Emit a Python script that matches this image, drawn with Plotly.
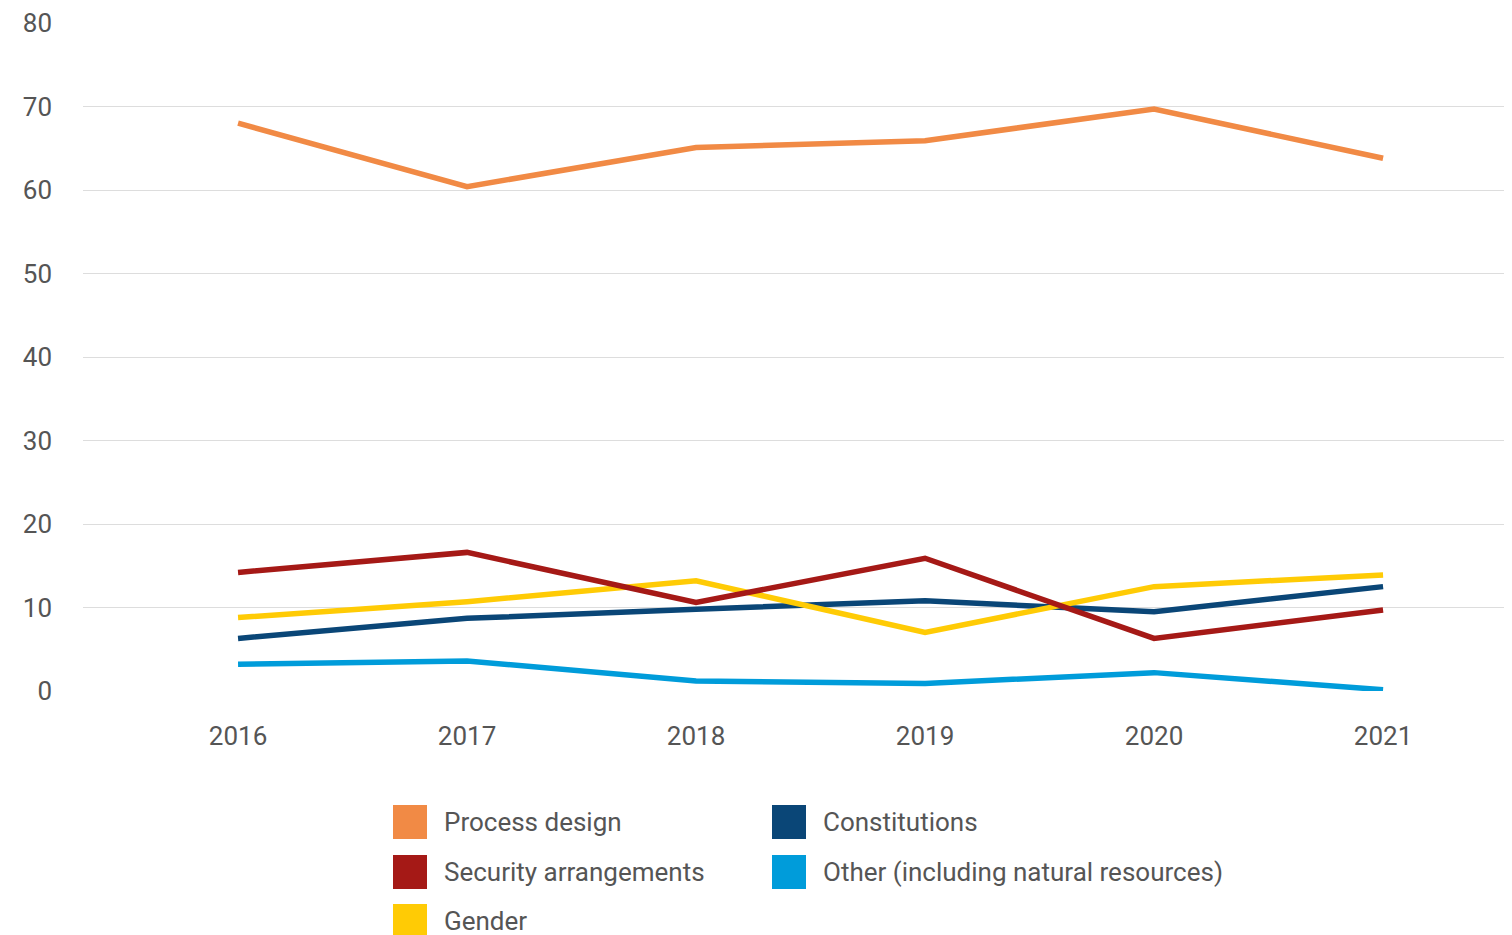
import plotly.graph_objects as go

years = ["2016", "2017", "2018", "2019", "2020", "2021"]
process_design = [68.0, 60.4, 65.1, 65.9, 69.7, 63.8]
security_arrangements = [14.2, 16.6, 10.6, 15.9, 6.3, 9.7]
gender = [8.8, 10.7, 13.2, 7.0, 12.5, 13.9]
constitutions = [6.3, 8.7, 9.8, 10.8, 9.5, 12.5]
other = [3.2, 3.6, 1.2, 0.9, 2.2, 0.15]
y_ticks = [0, 10, 20, 30, 40, 50, 60, 70, 80]

series = [
    ("Other (including natural resources)", other, "#009CDA"),
    ("Constitutions", constitutions, "#0A4677"),
    ("Gender", gender, "#FFCB05"),
    ("Security arrangements", security_arrangements, "#A51916"),
    ("Process design", process_design, "#F18A45"),
]

fig = go.Figure()
for name, vals, col in series:
    fig.add_trace(go.Scatter(x=years, y=vals, mode="lines", name=name,
                             line=dict(color=col, width=5.5), showlegend=False))

# page has an 8px body margin; figure placed at (8, 8) in the window
OFF = 8
W, H = 1512 - OFF, 935 - OFF
L, R, T, B = 83 - OFF, 0, 23 - OFF, 244
pw, ph = W - L - R, H - T - B

def px(x):
    return (x - OFF - L) / pw

def py(y):
    return (H - B - (y - OFF)) / ph

legend_items = [
    ("Process design", "#F18A45", 393, 822),
    ("Security arrangements", "#A51916", 393, 872),
    ("Gender", "#FFCB05", 393, 921),
    ("Constitutions", "#0A4677", 772, 822),
    ("Other (including natural resources)", "#009CDA", 772, 872),
]
for name, col, x0, yc in legend_items:
    fig.add_shape(type="rect", xref="paper", yref="paper",
                  x0=px(x0), x1=px(x0 + 34), y0=py(yc + 17), y1=py(yc - 17),
                  fillcolor=col, line=dict(width=0))
    fig.add_annotation(xref="paper", yref="paper", x=px(x0 + 49), y=py(yc),
                       text=name, showarrow=False, xanchor="left", yanchor="middle",
                       font=dict(size=26, color="#555555", family="Roboto"))

fig.update_layout(
    width=W, height=H,
    margin=dict(l=L, r=R, t=T, b=B),
    plot_bgcolor="white", paper_bgcolor="white",
    font=dict(family="Roboto", size=26, color="#555555"),
    showlegend=False,
    xaxis=dict(type="category", range=[-0.677, 5.563], showgrid=False,
               showline=False, zeroline=False, ticks="", ticklabelstandoff=27),
    yaxis=dict(range=[0, 80], tickvals=y_ticks, showgrid=True, gridcolor="#DDDDDD",
               gridwidth=1, zeroline=False, showline=False, ticks="",
               ticklabelstandoff=30),
)

fig.write_html("out.html")
